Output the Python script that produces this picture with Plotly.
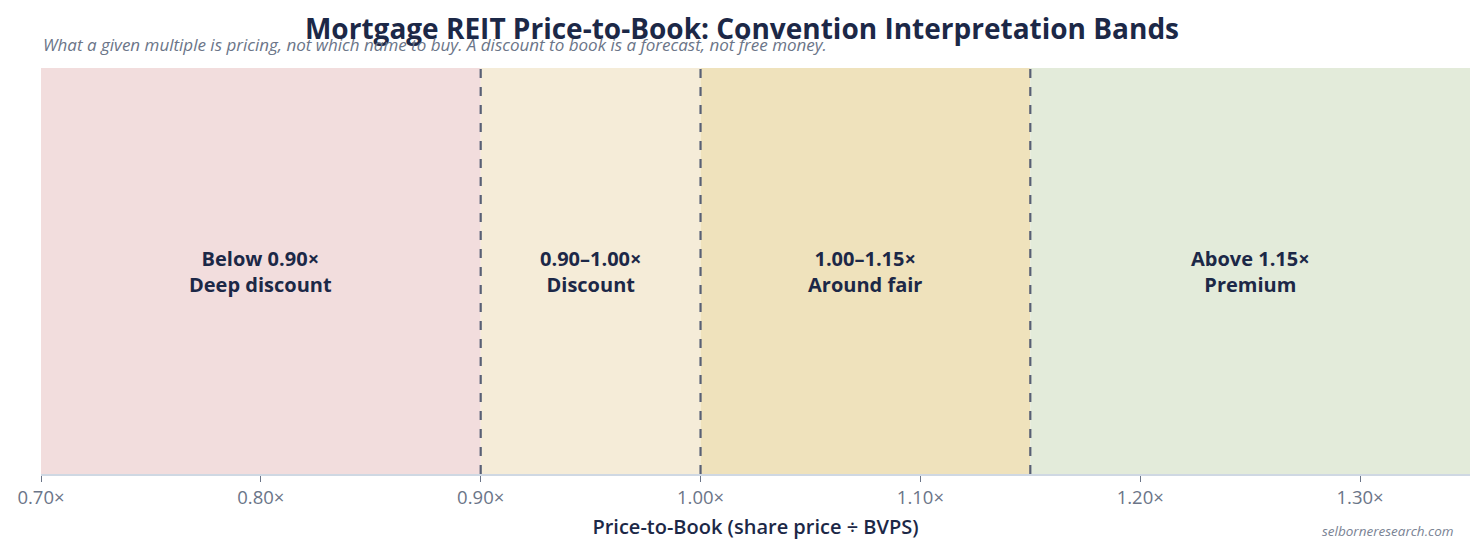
import plotly.graph_objects as go

# band edges (price-to-book multiples) and labels
band_starts = [0.70, 0.90, 1.00, 1.15]
band_ends = [0.90, 1.00, 1.15, 1.35]
band_ranges = ["Below 0.90×", "0.90–1.00×", "1.00–1.15×", "Above 1.15×"]
band_names = ["Deep discount", "Discount", "Around fair", "Premium"]
band_colors = ["#f2dddd", "#f5ecd8", "#efe2bc", "#e3ebda"]
cutoffs = [0.90, 1.00, 1.15]
tick_vals = [0.70, 0.80, 0.90, 1.00, 1.10, 1.20, 1.30]
tick_text = ["0.70×", "0.80×", "0.90×", "1.00×", "1.10×", "1.20×", "1.30×"]

FONT = "Segoe UI, Open Sans, Noto Sans, sans-serif"
NAVY = "#1c2847"

fig = go.Figure()

# invisible trace so the axes exist
fig.add_trace(go.Scatter(x=[band_starts[0], band_ends[-1]], y=[0, 1], mode="markers",
                         marker=dict(opacity=0), hoverinfo="skip", showlegend=False))

for x0, x1, col, rng, name in zip(band_starts, band_ends, band_colors, band_ranges, band_names):
    fig.add_vrect(x0=x0, x1=x1, fillcolor=col, opacity=1, line_width=0, layer="below")
    fig.add_annotation(x=(x0 + x1) / 2, y=0.5, xref="x", yref="y",
                       text=f"<b>{rng}<br>{name}</b>", showarrow=False,
                       font=dict(size=20, color=NAVY, family=FONT))

for c in cutoffs:
    fig.add_vline(x=c, line=dict(color="#586075", width=2.2, dash="dash"))

# page body has an 8px margin, so the figure is sized to fit inside it
fig.update_layout(
    width=1468, height=538,
    margin=dict(l=33, r=6, t=60, b=72),
    paper_bgcolor="white", plot_bgcolor="white",
    font=dict(family=FONT, color=NAVY),
    title=dict(text="<b>Mortgage REIT Price-to-Book: Convention Interpretation Bands</b>",
               x=0.5, xanchor="center", y=0.978, yanchor="top",
               font=dict(size=28, color=NAVY, family=FONT)),
    xaxis=dict(range=[0.70, 1.35], tickvals=tick_vals, ticktext=tick_text,
               showgrid=False, zeroline=False, showline=True, linecolor="#cfd8e3", linewidth=2,
               ticks="outside", ticklen=6, tickcolor="#6b7588",
               tickfont=dict(size=18.5, color="#6b7588", family=FONT),
               title=dict(text="Price-to-Book (share price ÷ BVPS)", standoff=12,
                          font=dict(size=20, color=NAVY, family=FONT, weight=600))),
    yaxis=dict(range=[0, 1], visible=False, fixedrange=True),
    showlegend=False,
)

fig.add_annotation(xref="paper", yref="paper", x=0, y=1, yshift=10, xanchor="left", yanchor="bottom",
                   text="<i>What a given multiple is pricing, not which name to buy. A discount to book is a forecast, not free money.</i>",
                   showarrow=False, font=dict(size=17, color="#6b7588", family=FONT))
fig.add_annotation(xref="paper", yref="paper", x=0.99, y=0, yshift=-46, xanchor="right", yanchor="top",
                   text="<i>selborneresearch.com</i>", showarrow=False,
                   font=dict(size=13.5, color="#7a8394", family=FONT))

fig.write_html("out.html")
